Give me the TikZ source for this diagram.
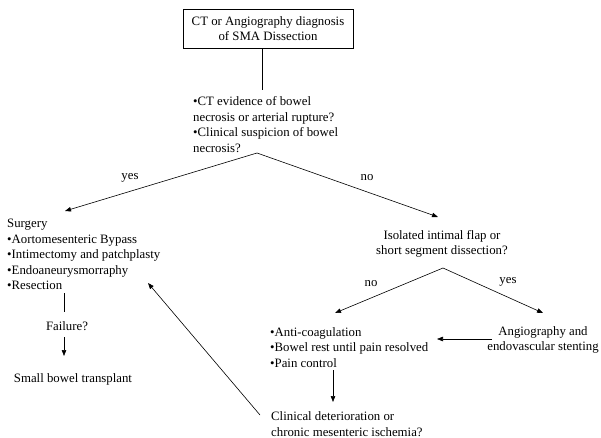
\documentclass[tikz,border=0pt]{standalone}
\usepackage{fontspec}
\setmainfont{Liberation Serif}
\usetikzlibrary{arrows.meta}
\begin{document}
\begin{tikzpicture}[x=1pt,y=-1pt,
  every node/.style={font=\fontsize{12.8}{15.5}\selectfont, inner sep=0pt, text=black},
  ln/.style={line width=0.6pt},
  arr/.style={line width=0.6pt,-{Triangle[length=6pt,width=4.5pt]}},
  blk/.style={align=left, anchor=west},
  ctr/.style={align=center}]
\useasboundingbox (0,0) rectangle (601,438);
% nodes
\node[draw, line width=0.8pt, minimum width=170pt, minimum height=39pt, ctr] (top) at (268,28.5) {CT or Angiography diagnosis\\of SMA Dissection};
\node[blk] (q1) at (193,124.5) {•CT evidence of bowel\\necrosis or arterial rupture?\\•Clinical suspicion of bowel\\necrosis?};
\node[blk] (surg) at (7,254.5) {Surgery\\•Aortomesenteric Bypass\\•Intimectomy and patchplasty\\•Endoaneurysmorraphy\\•Resection};
\node[ctr] (fail) at (67,326) {Failure?};
\node[ctr] (sbt) at (73,379) {Small bowel transplant};
\node[ctr] (iso) at (442,244) {Isolated intimal flap or\\short segment dissection?};
\node[blk] (anti) at (270,347.5) {•Anti-coagulation\\•Bowel rest until pain resolved\\•Pain control};
\node[ctr] (angio) at (543,340) {Angiography and\\endovascular stenting};
\node[blk] (clin) at (271,424) {Clinical deterioration or\\chronic mesenteric ischemia?};
% labels
\node (yes1) at (130,178) {yes};
\node (no1) at (367,178) {no};
\node (no2) at (371,284) {no};
\node (yes2) at (508,282) {yes};
% coordinates
\coordinate (c1) at (262,90);
\coordinate (ap1) at (257,153);
\coordinate (t1) at (65,211);
\coordinate (t2) at (438,217);
\coordinate (ap2) at (443,268);
\coordinate (t3) at (335,313);
\coordinate (t4) at (543,313);
\coordinate (s1) at (64,293);
\coordinate (s2) at (64,312);
\coordinate (f1) at (64,337);
\coordinate (f2) at (64,356);
\coordinate (a1) at (492,339);
\coordinate (a2) at (437,339);
\coordinate (d1) at (333,370);
\coordinate (d2) at (333,402);
\coordinate (k1) at (260,415);
\coordinate (k2) at (148,283);
% connectors
\draw[ln] (c1 |- top.south) -- (c1);
\draw[arr] (ap1) -- (t1);
\draw[arr] (ap1) -- (t2);
\draw[arr] (ap2) -- (t3);
\draw[arr] (ap2) -- (t4);
\draw[ln] (s1) -- (s2);
\draw[arr] (f1) -- (f2);
\draw[arr] (a1) -- (a2);
\draw[arr] (d1) -- (d2);
\draw[arr] (k1) -- (k2);
\end{tikzpicture}
\end{document}
